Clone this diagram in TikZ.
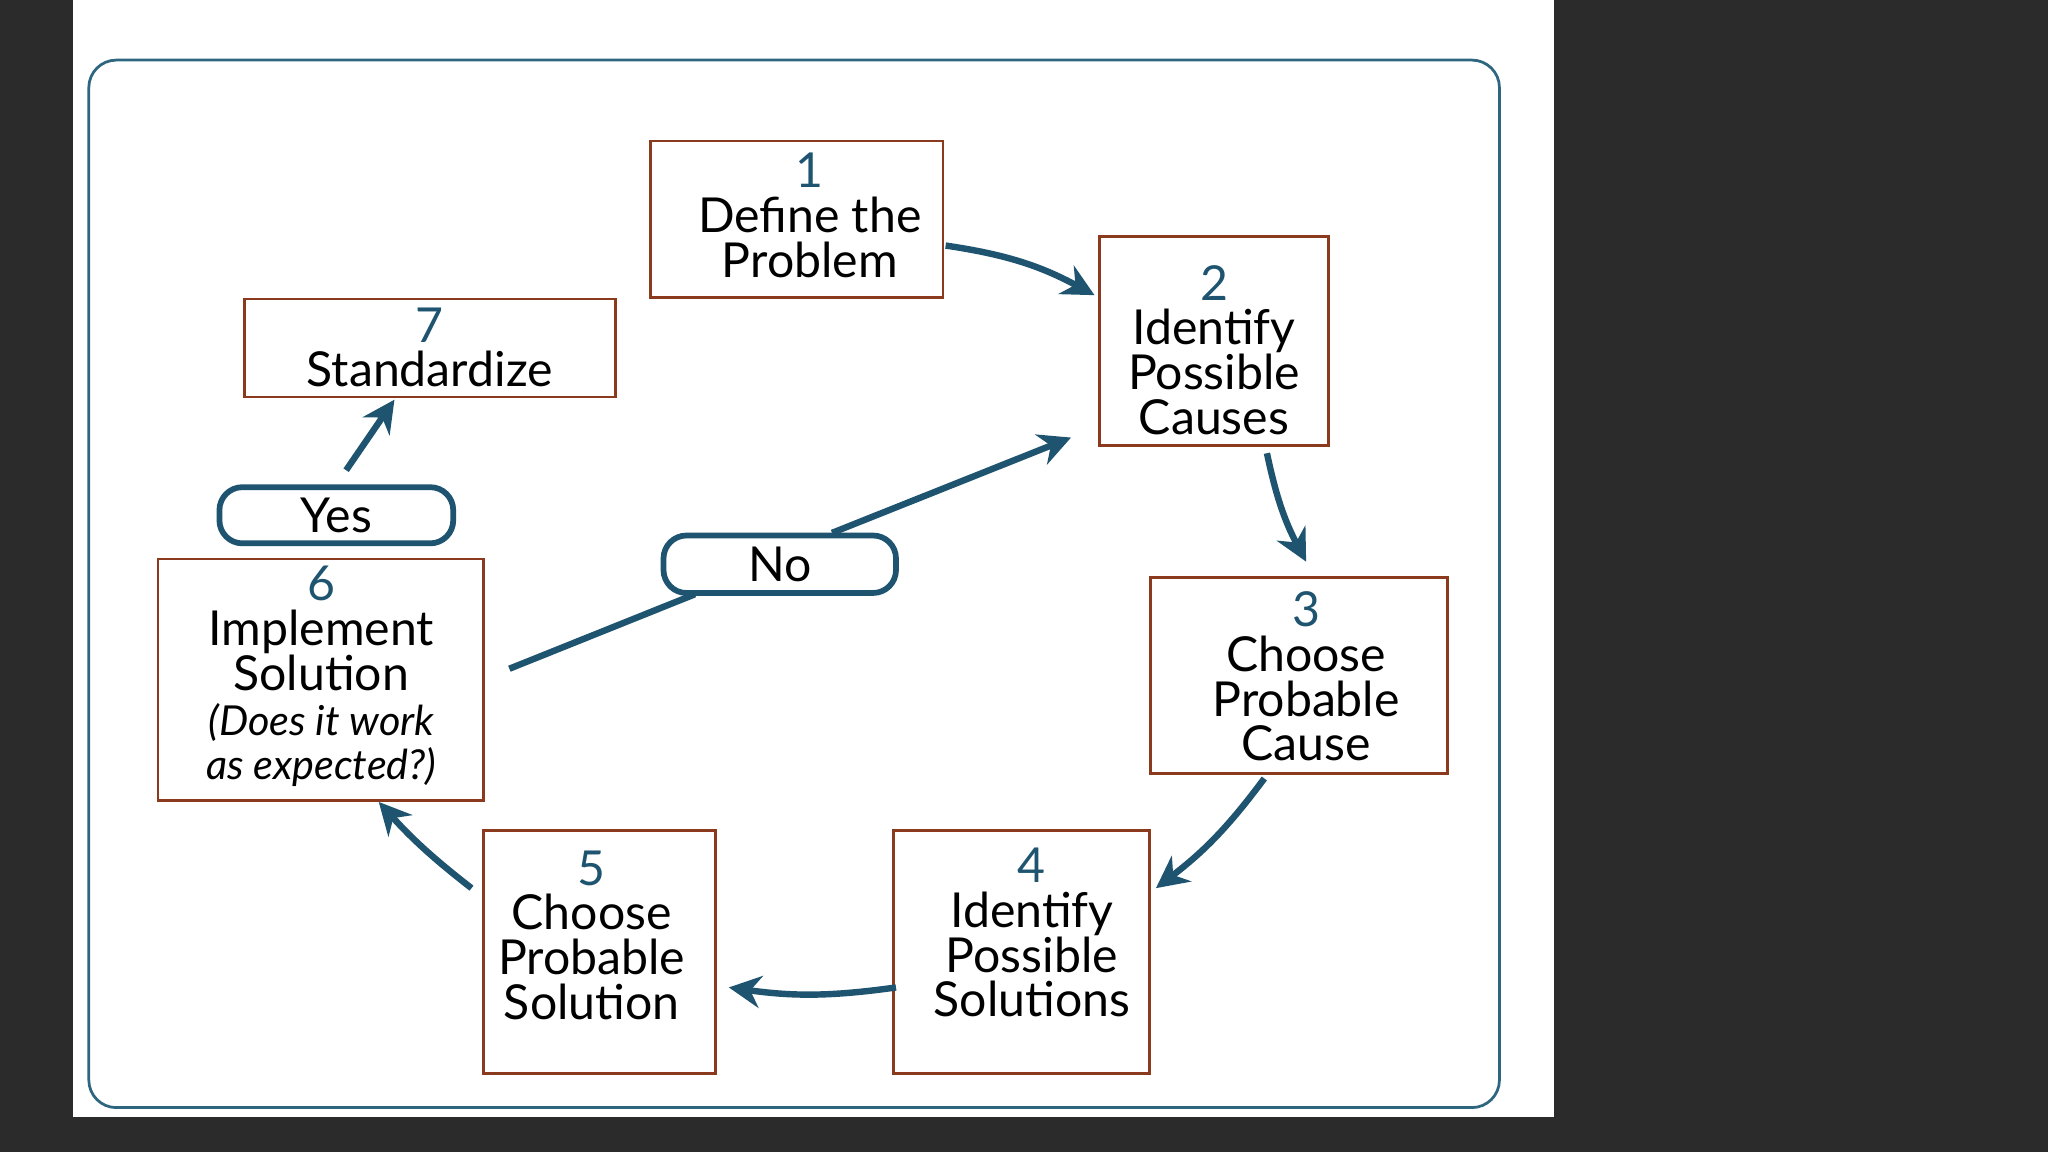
\documentclass[tikz,border=0pt]{standalone}
\usepackage{fontspec}
\setmainfont{Lato}
\usetikzlibrary{arrows.meta}
\definecolor{bgdark}{HTML}{2B2B2B}
\definecolor{frame}{HTML}{2E6680}
\definecolor{boxc}{HTML}{8B3A1E}
\definecolor{arr}{HTML}{1F5470}
\begin{document}
\begin{tikzpicture}[x=0.02cm,y=-0.02cm,
  stepbox/.style={draw=boxc,line width=1.2pt,inner sep=0pt},
  lbl/.style={align=center,font=\fontsize{21}{19.5}\selectfont,text=black},
  pillbox/.style={draw=arr,line width=2.5pt,rounded corners=10pt,lbl},
  conn/.style={draw=arr,line width=2.8pt,-{Stealth[length=14pt,width=14pt]}},
  plain/.style={draw=arr,line width=2.8pt}]
\fill[bgdark] (0,0) rectangle (1568,882);
\fill[white] (56,0) rectangle (1190,855);
\draw[frame,line width=1.2pt,rounded corners=12pt] (68,46) rectangle (1148,848);
\useasboundingbox (0,0) rectangle (1568,882);
% boxes
\node[stepbox,minimum width=224*0.02cm,minimum height=120*0.02cm] (b1) at (610,168) {};
\node[lbl] at (620,165) {{\color{arr}1}\\Define the\\Problem};
\node[stepbox,minimum width=175*0.02cm,minimum height=160*0.02cm] (b2) at (929.5,261) {};
\node[lbl] at (929.5,268) {{\color{arr}2}\\Identify\\Possible\\Causes};
\node[stepbox,minimum width=227*0.02cm,minimum height=150*0.02cm] (b3) at (994.5,517) {};
\node[lbl] at (1000,518) {{\color{arr}3}\\Choose\\Probable\\Cause};
\node[stepbox,minimum width=196*0.02cm,minimum height=186*0.02cm] (b4) at (782,729) {};
\node[lbl] at (790,714) {{\color{arr}4}\\Identify\\Possible\\Solutions};
\node[stepbox,minimum width=178*0.02cm,minimum height=186*0.02cm] (b5) at (459,729) {};
\node[lbl] at (453,716) {{\color{arr}5}\\Choose\\Probable\\Solution};
\node[stepbox,minimum width=249*0.02cm,minimum height=185*0.02cm] (b6) at (245.5,520.5) {};
\node[lbl] at (246,518) {{\color{arr}6}\\Implement\\Solution\\{\fontsize{18}{17}\selectfont\itshape (Does it work}\\{\fontsize{18}{17}\selectfont\itshape as expected?)}};
\node[stepbox,minimum width=284*0.02cm,minimum height=75*0.02cm] (b7) at (329,266.5) {};
\node[lbl] at (329,266) {{\color{arr}7}\\Standardize};
\node[pillbox,minimum width=179*0.02cm,minimum height=43*0.02cm] (yes) at (257.5,394.5) {Yes};
\node[pillbox,minimum width=178*0.02cm,minimum height=44*0.02cm] (no) at (597,432) {No};
% coordinates
\coordinate (a1s) at (724,188); \coordinate (a1e) at (838,226);
\coordinate (a2s) at (970,347); \coordinate (a2e) at (1000,430);
\coordinate (a3s) at (968,596); \coordinate (a3e) at (885,680);
\coordinate (a4s) at (686,756); \coordinate (a4e) at (558,756);
\coordinate (a5s) at (361,680); \coordinate (a5e) at (290,614);
\coordinate (ays) at (265,360); \coordinate (aye) at (302,306);
\coordinate (n1) at (390,512); \coordinate (n2) at (532,455);
\coordinate (n3) at (637,408); \coordinate (n4) at (820,335);
\draw[conn] (a1s) to[bend left=10] (a1e);
\draw[conn] (a2s) to[bend right=8] (a2e);
\draw[conn] (a3s) to[bend left=8] (a3e);
\draw[conn] (a4s) to[bend left=8] (a4e);
\draw[conn] (a5s) to[bend left=5] (a5e);
\draw[conn] (ays) -- (aye);
\draw[plain] (n1) -- (n2);
\draw[conn] (n3) -- (n4);
\end{tikzpicture}
\end{document}
